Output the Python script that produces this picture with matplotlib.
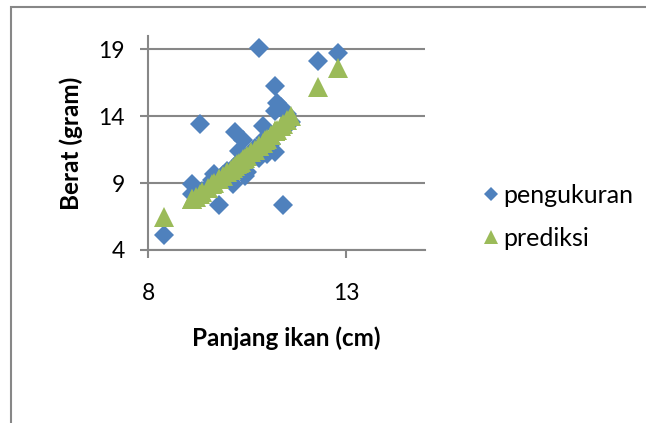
import matplotlib
matplotlib.use("Agg")
import matplotlib.pyplot as plt
from matplotlib.patches import Rectangle

plt.rcParams['font.family'] = ['Lato', 'DejaVu Sans']

# panjang ikan (cm), berat terukur dan berat prediksi (gram)
panjang = [8.4, 9.1, 9.1, 9.2, 9.3, 9.35, 9.5, 9.6, 9.65, 9.8,
           9.8, 9.9, 10.0, 10.1, 10.15, 10.2, 10.25, 10.3, 10.35, 10.4,
           10.45, 10.5, 10.6, 10.7, 10.8, 10.8, 10.9, 10.95, 11.0, 11.1,
           11.2, 11.2, 11.25, 11.2, 11.35, 11.4, 11.5, 11.6, 12.3, 12.8]
berat_ukur = [5.1, 8.9, 8.2, 8.0, 13.4, 8.4, 8.7, 9.2, 9.7, 7.4,
              9.3, 9.6, 9.9, 9.4, 8.95, 12.8, 10.4, 11.4, 10.7, 12.2,
              9.5, 9.8, 10.9, 11.6, 19.1, 10.9, 13.3, 12.4, 11.2, 11.9,
              16.25, 11.3, 15.0, 14.4, 14.7, 7.4, 14.2, 13.6, 18.1, 18.7]
berat_prediksi = [6.5, 7.8, 7.8, 8.0, 8.2, 8.3, 8.6, 8.9, 9.0, 9.3,
                  9.3, 9.5, 9.8, 10.0, 10.1, 10.3, 10.4, 10.5, 10.6, 10.8,
                  10.9, 11.0, 11.3, 11.5, 11.8, 11.8, 12.0, 12.2, 12.3, 12.6,
                  12.9, 12.9, 13.0, 12.9, 13.3, 13.4, 13.7, 14.0, 16.2, 17.6]

x_ticks = [8, 13]
y_ticks = [4, 9, 14, 19]

biru = '#4F81BD'
hijau = '#9BBB59'
abu = '#878787'

fig = plt.figure(figsize=(6.46, 4.23), dpi=100)
fig.patch.set_facecolor('white')

# bingkai area chart
fig.patches.append(Rectangle((11 / 646, -0.1), 1.2, 1 - 7.5 / 423 + 0.1,
                             transform=fig.transFigure, fill=False,
                             edgecolor=abu, linewidth=1.5, zorder=0))

ax = fig.add_axes([148.3 / 646, 1 - 250 / 423, (425 - 148.3) / 646, (250 - 36) / 423])

ax.plot(panjang, berat_ukur, linestyle='none', marker='D', markersize=10.3,
        color=biru, markeredgewidth=0, label='pengukuran', zorder=3)
ax.plot(panjang, berat_prediksi, linestyle='none', marker='^', markersize=14.5,
        color=hijau, markeredgewidth=0, label='prediksi', zorder=4)

ax.set_xlim(8, 15)
ax.set_ylim(4, 20)
ax.set_xticks(x_ticks)
ax.set_yticks(y_ticks)
ax.yaxis.grid(True, color=abu, linewidth=1.5)
ax.set_axisbelow(True)

for s in ['top', 'right']:
    ax.spines[s].set_visible(False)
for s in ['left', 'bottom']:
    ax.spines[s].set_color(abu)
    ax.spines[s].set_linewidth(1.5)

ax.tick_params(axis='x', length=6, width=1.5, color=abu, labelsize=16.5, pad=18)
ax.tick_params(axis='y', length=6, width=1.5, color=abu, labelsize=16.5, pad=11)

ax.set_xlabel('Panjang ikan (cm)', fontsize=17.5, fontweight='bold', labelpad=16)
ax.set_ylabel('Berat (gram)', fontsize=17.5, fontweight='bold', labelpad=11)

fig.legend(*ax.get_legend_handles_labels(), loc='center left',
           bbox_to_anchor=(478 / 646, 1 - 217 / 423), frameon=False,
           fontsize=18, handletextpad=0.0, labelspacing=0.8,
           handlelength=1.0, markerscale=0.72, borderaxespad=0, borderpad=0)

fig.savefig('out.png', dpi=100)
